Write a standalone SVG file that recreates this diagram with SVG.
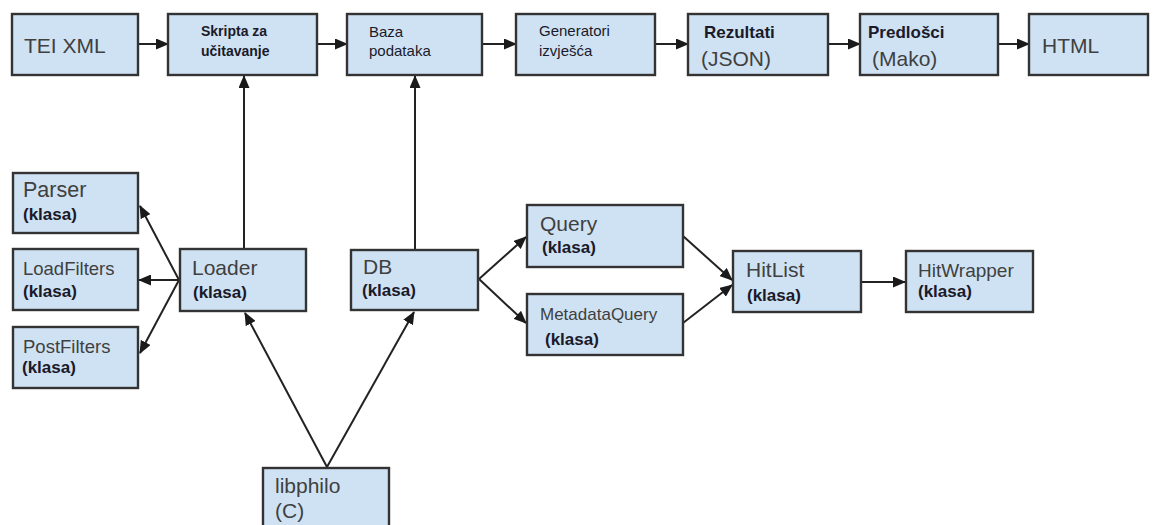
<svg xmlns="http://www.w3.org/2000/svg" width="1155" height="525" viewBox="0 0 1155 525">
<style>
.box{fill:#cfe2f3;stroke:#333;stroke-width:2.4}
.t{font-family:"Liberation Sans",Arial,sans-serif;fill:#404040}
.b{font-family:"Liberation Sans",Arial,sans-serif;font-weight:bold;fill:#1a1a2a}
.m{font-family:"Liberation Sans",Arial,sans-serif;fill:#1a1a2a}
.k{font-family:"Liberation Sans",Arial,sans-serif;font-weight:bold;fill:#1a1a2a;font-size:17px}
.c{fill:none;stroke:#222;stroke-width:2;marker-end:url(#ah)}
</style>
<defs>
<marker id="ah" markerUnits="userSpaceOnUse" markerWidth="13" markerHeight="11" refX="12" refY="5.5" orient="auto">
<path d="M0,0 L13,5.5 L0,11 z" fill="#1a1a1a"/>
</marker>
</defs>
<rect width="1155" height="525" fill="#fff"/>
<g id="connectors">
<path class="c" d="M138,44 L168,44"/>
<path class="c" d="M317,44 L347,44"/>
<path class="c" d="M482,44 L516,44"/>
<path class="c" d="M655,44 L688,44"/>
<path class="c" d="M828,44 L860,44"/>
<path class="c" d="M998,44 L1029,44"/>
<path class="c" d="M244,249 L244,76"/>
<path class="c" d="M415,250 L415,76"/>
<path class="c" d="M179,280 L140,206"/>
<path class="c" d="M179,280 L139,280"/>
<path class="c" d="M179,280 L140,353"/>
<path class="c" d="M327,467 L245,313"/>
<path class="c" d="M327,467 L414,312"/>
<path class="c" d="M479,279 L526,237"/>
<path class="c" d="M479,279 L526,323"/>
<path class="c" d="M683,236 L732,280"/>
<path class="c" d="M683,323 L732,285"/>
<path class="c" d="M861,282 L905,282"/>
</g>
<g id="tei"><rect class="box" x="12" y="14" width="126" height="61"/><text class="t" x="24" y="53" font-size="21">TEI XML</text></g>
<g id="skripta"><rect class="box" x="168" y="14" width="149" height="61"/><text class="b" x="201" y="36" font-size="14">Skripta za</text><text class="b" x="201" y="56" font-size="14">učitavanje</text></g>
<g id="baza"><rect class="box" x="347" y="14" width="135" height="61"/><text class="m" x="369" y="37" font-size="15">Baza</text><text class="m" x="369" y="56" font-size="15">podataka</text></g>
<g id="generatori"><rect class="box" x="516" y="14" width="139" height="61"/><text class="m" x="539" y="36" font-size="15">Generatori</text><text class="m" x="539" y="56" font-size="15">izvješća</text></g>
<g id="rezultati"><rect class="box" x="688" y="14" width="140" height="61"/><text class="b" x="704" y="38" font-size="17">Rezultati</text><text class="t" x="701" y="66" font-size="21">(JSON)</text></g>
<g id="predlosci"><rect class="box" x="860" y="14" width="138" height="61"/><text class="b" x="868" y="38" font-size="17">Predlošci</text><text class="t" x="872" y="66" font-size="21">(Mako)</text></g>
<g id="html"><rect class="box" x="1029" y="14" width="119" height="61"/><text class="t" x="1042" y="53" font-size="21">HTML</text></g>
<g id="parser"><rect class="box" x="13" y="173" width="125" height="60"/><text class="t" x="23" y="197" font-size="21.5">Parser</text><text class="k" x="23" y="220">(klasa)</text></g>
<g id="loadfilters"><rect class="box" x="13" y="249" width="125" height="61"/><text class="t" x="23" y="275" font-size="18.5">LoadFilters</text><text class="k" x="23" y="297">(klasa)</text></g>
<g id="postfilters"><rect class="box" x="13" y="327" width="125" height="61"/><text class="t" x="23" y="353" font-size="18.5">PostFilters</text><text class="k" x="22" y="373">(klasa)</text></g>
<g id="loader"><rect class="box" x="180" y="249" width="126" height="62"/><text class="t" x="192" y="275" font-size="21">Loader</text><text class="k" x="193" y="298">(klasa)</text></g>
<g id="db"><rect class="box" x="351" y="250" width="127" height="60"/><text class="t" x="363" y="274" font-size="21">DB</text><text class="k" x="362" y="296">(klasa)</text></g>
<g id="query"><rect class="box" x="527" y="205" width="156" height="62"/><text class="t" x="540" y="231" font-size="21">Query</text><text class="k" x="542" y="253">(klasa)</text></g>
<g id="metadataquery"><rect class="box" x="527" y="294" width="156" height="61"/><text class="t" x="540" y="320" font-size="17">MetadataQuery</text><text class="k" x="545" y="345">(klasa)</text></g>
<g id="hitlist"><rect class="box" x="733" y="251" width="128" height="61"/><text class="t" x="746" y="277" font-size="21">HitList</text><text class="k" x="747" y="301">(klasa)</text></g>
<g id="hitwrapper"><rect class="box" x="906" y="251" width="127" height="61"/><text class="t" x="918" y="277" font-size="19">HitWrapper</text><text class="k" x="918" y="297">(klasa)</text></g>
<g id="libphilo"><rect class="box" x="263" y="468" width="126" height="70"/><text class="t" x="275" y="493" font-size="21">libphilo</text><text class="t" x="275" y="518" font-size="21">(C)</text></g>
</svg>
